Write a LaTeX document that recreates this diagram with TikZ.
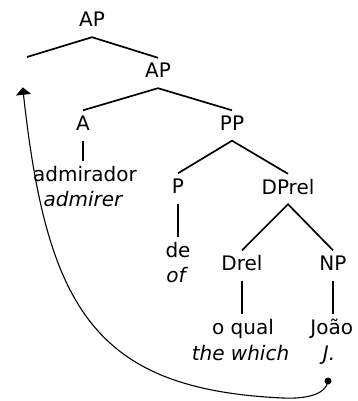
\documentclass[tikz,border=0pt]{standalone}
\usepackage{fontspec}
\setmainfont{DejaVu Sans}
\usetikzlibrary{arrows.meta}
\begin{document}
\begin{tikzpicture}[x=1pt,y=-1pt,
  lbl/.style={font=\fontsize{20}{24}\selectfont, text height=14pt, text depth=4pt, inner ysep=6pt, inner xsep=0pt, anchor=base},
  gloss/.style={lbl, font=\fontsize{20}{24}\selectfont\itshape},
  branch/.style={line width=1.7pt},
  move/.style={line width=1.1pt, -{Triangle[width=15pt,length=7.5pt]}}
]
\useasboundingbox (0,0) rectangle (358,401);
% nodes
\node[lbl] (ap1) at (92,27) {AP};
\coordinate (t) at (27,57);
\node[lbl] (ap2) at (158,78) {AP};
\node[lbl] (a) at (83,130.5) {A};
\node[lbl] (pp) at (232,130.5) {PP};
\node[lbl] (adm) at (85,181.5) {admirador};
\node[gloss] (admg) at (83,206) {admirer};
\node[lbl] (p) at (178,193.5) {P};
\node[lbl] (dprel) at (288,194) {DPrel};
\node[lbl] (de) at (178,257) {de};
\node[gloss] (of) at (176,282) {of};
\node[lbl] (drel) at (242,270.5) {Drel};
\node[lbl] (np) at (333,270.5) {NP};
\node[lbl] (oqual) at (243,334) {o qual};
\node[gloss] (which) at (240.5,360) {the which};
\node[lbl] (joao) at (331.7,334) {João};
\node[gloss] (jj) at (329,360) {J.};
\node[circle, fill=black, inner sep=0pt, minimum size=7pt] (dot) at (328,381) {};
\coordinate (tip) at (22.7,87.3);
% branches
\draw[branch] (t) -- (ap1.south) -- (ap2.north);
\draw[branch] (a.north) -- (ap2.south) -- (pp.north);
\draw[branch] (a.south) -- (a.south |- adm.north);
\draw[branch] (p.north) -- (pp.south) -- (dprel.north);
\draw[branch] (p.south) -- (p.south |- de.north);
\draw[branch] (drel.north) -- (dprel.south) -- (np.north);
\draw[branch] (drel.south) -- (drel.south |- oqual.north);
\draw[branch] (np.south) -- (np.south |- joao.north);
% movement arrow
\draw[move] (dot.center) .. controls (326,395) and (305,399) .. (283,398)
  .. controls (96,389.5) and (47,310) .. (tip);
\end{tikzpicture}
\end{document}
